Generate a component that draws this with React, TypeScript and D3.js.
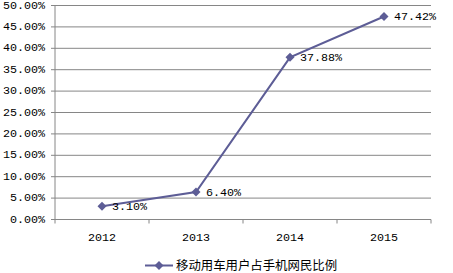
import React from "react";
import * as d3 from "d3";

const categories = ["2012", "2013", "2014", "2015"];
const values = [3.1, 6.4, 37.88, 47.42];
const yTicks = [0, 5, 10, 15, 20, 25, 30, 35, 40, 45, 50];
const seriesName = "移动用车用户占手机网民比例";

const W = 453, H = 273;
const left = 55, right = 431, top = 5.5, bottom = 219.5;
const color = "#5d5d96";
const grid = "#868686";
const mono = "'Liberation Mono', 'DejaVu Sans Mono', monospace";

export default function App() {
  const x = d3.scaleBand<string>().domain(categories).range([left, right]);
  const y = d3.scaleLinear().domain([0, 50]).range([bottom, top]);
  const line = d3.line<number>()
    .x((_, i) => x(categories[i])! + x.bandwidth() / 2)
    .y(d => y(d));
  const diamond = (cx: number, cy: number, r: number) =>
    `M${cx},${cy - r}L${cx + r},${cy}L${cx},${cy + r}L${cx - r},${cy}Z`;
  const tickXs = [...categories.map(c => x(c)!), right];

  return (
    <svg width={W} height={H} style={{ position: "absolute", left: 0, top: 0, background: "#fff" }}>
      {yTicks.map(t => (
        <g key={t}>
          {t > 0 && <line x1={left} x2={right} y1={y(t)} y2={y(t)} stroke={grid} strokeWidth={1} />}
          <line x1={left - 4} x2={left} y1={y(t)} y2={y(t)} stroke={grid} />
          <text x={45} y={y(t)} textAnchor="end" dominantBaseline="central" fontFamily={mono} fontSize={11.7} fill="#000">
            {t.toFixed(2)}%
          </text>
        </g>
      ))}
      <line x1={left} x2={left} y1={top} y2={bottom} stroke={grid} />
      <line x1={left} x2={right} y1={bottom} y2={bottom} stroke={grid} />
      {tickXs.map((tx, i) => (
        <line key={i} x1={tx} x2={tx} y1={bottom} y2={bottom + 4} stroke={grid} />
      ))}
      {categories.map(c => (
        <text key={c} x={x(c)! + x.bandwidth() / 2} y={238} textAnchor="middle" dominantBaseline="central" fontFamily={mono} fontSize={11.7} fill="#000">
          {c}
        </text>
      ))}
      <path d={line(values) || ""} fill="none" stroke={color} strokeWidth={2} />
      {values.map((v, i) => {
        const cx = x(categories[i])! + x.bandwidth() / 2;
        return (
          <g key={i}>
            <path d={diamond(cx, y(v), 4.5)} fill={color} />
            <text x={cx + 10} y={y(v) + 0.5} dominantBaseline="central" fontFamily={mono} fontSize={11.7} fill="#000">
              {v.toFixed(2)}%
            </text>
          </g>
        );
      })}
      <line x1={145} x2={173} y1={265.5} y2={265.5} stroke={color} strokeWidth={2} />
      <path d={diamond(159, 265.5, 4.5)} fill={color} />
      <text x={176} y={265} dominantBaseline="central" fontFamily="'Noto Sans CJK SC', sans-serif" fontSize={12.4} fill="#000">
        {seriesName}
      </text>
    </svg>
  );
}
